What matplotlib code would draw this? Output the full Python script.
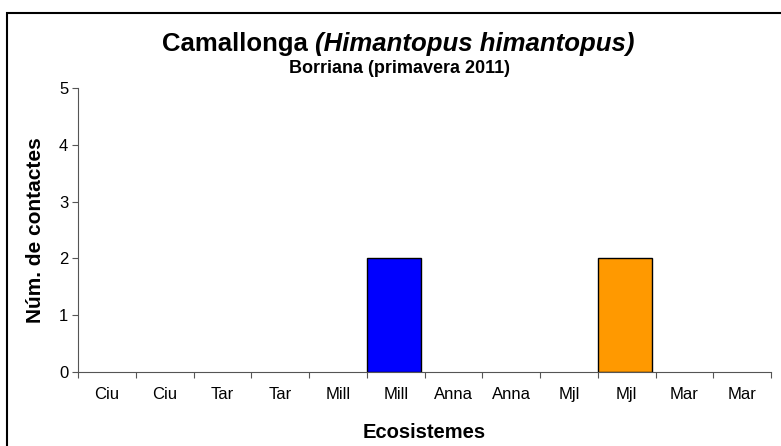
import numpy as np
import matplotlib
matplotlib.use('Agg')
import matplotlib.pyplot as plt
from matplotlib.patches import Rectangle

plt.rcParams['font.family'] = ['Liberation Sans', 'DejaVu Sans']

categories = ['Ciu', 'Ciu', 'Tar', 'Tar', 'Mill', 'Mill', 'Anna', 'Anna', 'Mjl', 'Mjl', 'Mar', 'Mar']
values = [0, 0, 0, 0, 0, 2, 0, 0, 0, 2, 0, 0]
bar_colors = ['#0000ff'] * 6 + ['#ff9900'] * 6

fig = plt.figure(figsize=(7.81, 4.46), dpi=100)
ax = fig.add_axes([0.0999, 0.166, 0.8875, 0.637])

x = np.arange(len(categories))
for xi, v, c in zip(x, values, bar_colors):
    if v > 0:
        ax.bar(xi, v, width=0.93, align='edge', color=c, edgecolor='black', linewidth=1)

ax.set_xlim(0, len(categories))
ax.set_ylim(0, 5)
ax.set_yticks(range(6))
ax.set_xticks(np.arange(len(categories) + 1))
ax.set_xticklabels([])
ax.set_xticks(x + 0.5, minor=True)
ax.set_xticklabels(categories, minor=True, fontsize=12)
ax.tick_params(axis='x', which='minor', length=0, pad=11)
ax.tick_params(axis='x', which='major', length=4, direction='out', color='#555555')
ax.tick_params(axis='y', length=4, pad=3, labelsize=12, color='#555555')
for s in ['top', 'right']:
    ax.spines[s].set_visible(False)
for s in ['left', 'bottom']:
    ax.spines[s].set_color('#555555')

ax.set_ylabel('Núm. de contactes', fontsize=15, fontweight='bold', labelpad=10)
ax.set_xlabel('Ecosistemes', fontsize=14.5, fontweight='bold', labelpad=15)

fig.text(0.403, 1 - 51 / 446, 'Camallonga ', fontsize=18.5, fontweight='bold', ha='right', va='baseline')
fig.text(0.403, 1 - 51 / 446, '(Himantopus himantopus)', fontsize=18.5, fontweight='bold', style='italic',
         ha='left', va='baseline')
fig.text(0.511, 1 - 73 / 446, 'Borriana (primavera 2011)', fontsize=13, fontweight='bold', ha='center', va='baseline')

fig.patches.append(Rectangle((7 / 781, -0.05), 1.05, 1 - 13 / 446 + 0.05, transform=fig.transFigure,
                             fill=False, edgecolor='black', linewidth=1.5))

fig.savefig('out.png', dpi=100)
